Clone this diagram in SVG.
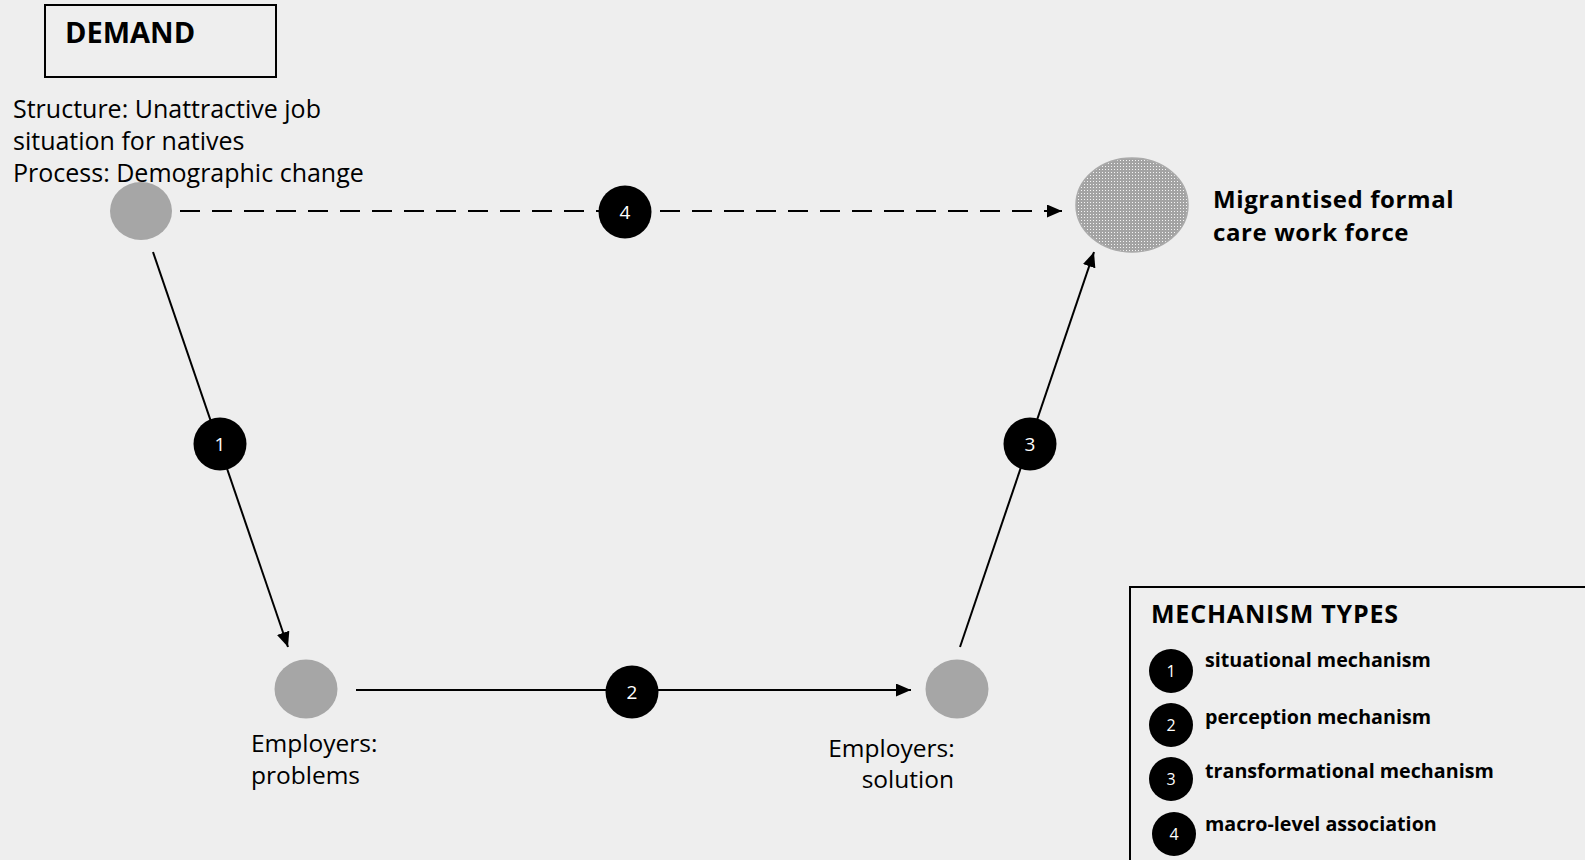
<svg xmlns="http://www.w3.org/2000/svg" width="1585" height="860" viewBox="0 0 1585 860">
<style>
  .t { font-family: "Open Sans", "Noto Sans", "DejaVu Sans", sans-serif; fill: #000; }
  .b { font-weight: bold; }
  .node { fill: #a6a6a6; }
  .ln { stroke: #000; stroke-width: 2; fill: none; }
  .badge { fill: #000; }
  .num { font-family: "Open Sans", "Noto Sans", sans-serif; fill: #fff; text-anchor: middle; }
</style>
<defs>
  <marker id="arr" viewBox="0 0 15 13" refX="15" refY="6.5" markerWidth="15" markerHeight="13" markerUnits="userSpaceOnUse" orient="auto">
    <path d="M0,0 L15,6.5 L0,13 Z" fill="#000"/>
  </marker>
  <pattern id="dots" width="3" height="3" patternUnits="userSpaceOnUse">
    <rect width="3" height="3" fill="#a3a3a3"/>
    <rect x="1" y="1" width="1" height="1" fill="#f4f4f4"/>
  </pattern>
</defs>
<rect width="1585" height="860" fill="#eeeeee"/>

<g id="title">
  <rect x="45" y="5" width="231" height="72" fill="none" stroke="#000" stroke-width="2"/>
  <text class="t b" x="65" y="43" font-size="29">DEMAND</text>
</g>

<g id="connectors">
  <line class="ln" x1="180" y1="211" x2="1062" y2="211" stroke-dasharray="20 12" marker-end="url(#arr)"/>
  <line class="ln" x1="153" y1="252" x2="288" y2="647" marker-end="url(#arr)"/>
  <line class="ln" x1="356" y1="690" x2="911" y2="690" marker-end="url(#arr)"/>
  <line class="ln" x1="960" y1="647" x2="1094" y2="252" marker-end="url(#arr)"/>
</g>

<g id="node-macro-cause">
  <ellipse class="node" cx="141" cy="211" rx="31" ry="29"/>
  <text class="t" font-size="25">
    <tspan x="13" y="118">Structure: Unattractive job</tspan>
    <tspan x="13" y="150">situation for natives</tspan>
    <tspan x="13" y="182">Process: Demographic change</tspan>
  </text>
</g>

<g id="node-macro-outcome">
  <ellipse cx="1132" cy="205" rx="56" ry="47" fill="url(#dots)" stroke="#aaaaaa" stroke-width="1.5"/>
  <text class="t b" font-size="24" letter-spacing="0.6">
    <tspan x="1213" y="208">Migrantised formal</tspan>
    <tspan x="1213" y="241">care work force</tspan>
  </text>
</g>

<g id="node-problems">
  <ellipse class="node" cx="306" cy="689" rx="31.5" ry="29.5"/>
  <text class="t" font-size="24.5">
    <tspan x="251" y="752">Employers:</tspan>
    <tspan x="251" y="784">problems</tspan>
  </text>
</g>

<g id="node-solution">
  <ellipse class="node" cx="957" cy="689" rx="31.5" ry="29.5"/>
  <text class="t" font-size="24.5" text-anchor="end">
    <tspan x="961" y="757">Employers:</tspan>
    <tspan x="954" y="788">solution</tspan>
  </text>
</g>

<g id="badge-1">
  <circle class="badge" cx="220" cy="444" r="26.5"/>
  <text class="num" x="220" y="451" font-size="19">1</text>
</g>
<g id="badge-2">
  <circle class="badge" cx="632" cy="692" r="26.5"/>
  <text class="num" x="632" y="699" font-size="19">2</text>
</g>
<g id="badge-3">
  <circle class="badge" cx="1030" cy="444" r="26.5"/>
  <text class="num" x="1030" y="451" font-size="19">3</text>
</g>
<g id="badge-4">
  <circle class="badge" cx="625" cy="212" r="26.5"/>
  <text class="num" x="625" y="219" font-size="19">4</text>
</g>

<g id="legend">
  <rect x="1130" y="587" width="470" height="290" fill="none" stroke="#000" stroke-width="2"/>
  <text class="t b" x="1151" y="623" font-size="25" letter-spacing="0.8">MECHANISM TYPES</text>
  <circle class="badge" cx="1171" cy="671" r="22"/>
  <text class="num" x="1171" y="677" font-size="16">1</text>
  <text class="t b" x="1205" y="667" font-size="19.7">situational mechanism</text>
  <circle class="badge" cx="1171" cy="725" r="22"/>
  <text class="num" x="1171" y="731" font-size="16">2</text>
  <text class="t b" x="1205" y="724" font-size="19.7">perception mechanism</text>
  <circle class="badge" cx="1171" cy="779" r="22"/>
  <text class="num" x="1171" y="785" font-size="16">3</text>
  <text class="t b" x="1205" y="778" font-size="19.7">transformational mechanism</text>
  <circle class="badge" cx="1174" cy="834" r="22"/>
  <text class="num" x="1174" y="840" font-size="16">4</text>
  <text class="t b" x="1205" y="831" font-size="19.7">macro-level association</text>
</g>
</svg>
